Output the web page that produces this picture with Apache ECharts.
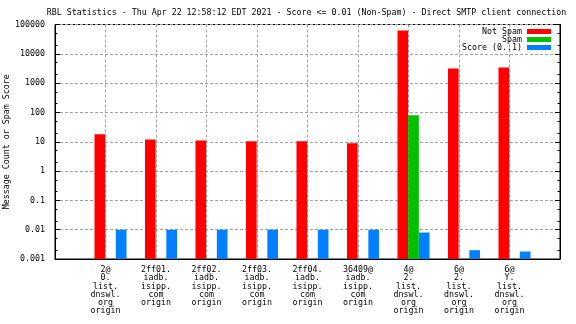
<!DOCTYPE html>
<html>
<head>
<meta charset="utf-8">
<script src="https://cdn.jsdelivr.net/npm/echarts@6/dist/echarts.min.js"></script>
<style>html,body{margin:0;padding:0;background:#fff}#c{width:576px;height:324px}</style>
</head>
<body>
<div id="c"></div>
<script>
var titleText = 'RBL Statistics - Thu Apr 22 12:58:12 EDT 2021 - Score <= 0.01 (Non-Spam) - Direct SMTP client connection';
var categories = [
  '2@\n0.\nlist.\ndnswl.\norg\norigin',
  '2ff01.\niadb.\nisipp.\ncom\norigin',
  '2ff02.\niadb.\nisipp.\ncom\norigin',
  '2ff03.\niadb.\nisipp.\ncom\norigin',
  '2ff04.\niadb.\nisipp.\ncom\norigin',
  '36409@\niadb.\nisipp.\ncom\norigin',
  '4@\n2.\nlist.\ndnswl.\norg\norigin',
  '6@\n2.\nlist.\ndnswl.\norg\norigin',
  '6@\nY.\nlist.\ndnswl.\norg\norigin'
];
var notSpam = [18, 12, 11, 10.4, 10.4, 8.9, 62000, 3150, 3400];
var spam = [null, null, null, null, null, null, 80, null, null];
var score = [0.01, 0.01, 0.01, 0.01, 0.01, 0.01, 0.008, 0.002, 0.0018];
var yTickLabels = ['0.001', '0.01', '0.1', '1', '10', '100', '1000', '10000', '100000'];
var yMinorTicks = [];
[-3,-2,-1,0,1,2,3,4].forEach(function(e){ yMinorTicks.push(2*Math.pow(10,e), 5*Math.pow(10,e)); });

var FONT = 'DejaVu Sans Mono';
var FS = 8.3;
var axisCats = [''].concat(categories, ['']);
function pad(a){ return [null].concat(a, [null]); }

var chart = echarts.init(document.getElementById('c'), null, {renderer: 'canvas'});
var gridPos = {top: 24.5, bottom: 65};
function logAxis(extra){
  var base = {type: 'log', logBase: 10, min: 0.001, max: 100000, startValue: 0.001};
  for (var k in extra) base[k] = extra[k];
  return base;
}
var option = {
  animation: false,
  backgroundColor: '#fff',
  textStyle: {fontFamily: FONT},
  title: {
    text: titleText, left: 306.5, top: 8, padding: 0, textAlign: 'center',
    textStyle: {fontFamily: FONT, fontSize: FS, fontWeight: 'normal', color: '#000', lineHeight: 10}
  },
  legend: {
    orient: 'vertical', right: 25, top: 27.5, padding: 0, align: 'right',
    itemWidth: 24, itemHeight: 5, itemGap: 0, icon: 'rect',
    textStyle: {fontFamily: FONT, fontSize: FS, color: '#000', lineHeight: 8},
    data: ['Not Spam', 'Spam', 'Score (0..1)']
  },
  grid: [
    {left: 55, right: 16, top: gridPos.top, bottom: gridPos.bottom, show: true, borderColor: '#000', borderWidth: 1, containLabel: false, outerBoundsMode: 'none'},
    {left: 60, right: 11, top: gridPos.top, bottom: gridPos.bottom, show: false, containLabel: false, outerBoundsMode: 'none'}
  ],
  xAxis: [
    {
      gridIndex: 0, type: 'category', data: axisCats, boundaryGap: false,
      axisLine: {show: true, lineStyle: {color: '#000'}},
      axisTick: {show: false},
      axisLabel: {interval: 0, margin: 7, fontFamily: FONT, fontSize: FS, lineHeight: 8.2, color: '#000'},
      splitLine: {show: true, lineStyle: {color: '#a0a0a0', type: [3, 2], width: 1}}
    },
    {
      gridIndex: 1, type: 'category', data: axisCats, boundaryGap: false, show: false
    }
  ],
  yAxis: [
    logAxis({
      gridIndex: 0, position: 'left', interval: 1,
      name: 'Message Count or Spam Score', nameLocation: 'middle', nameGap: 44, nameRotate: 90,
      nameMoveOverlap: false,
      nameTextStyle: {fontFamily: FONT, fontSize: FS, color: '#000'},
      axisLine: {show: true, lineStyle: {color: '#000'}},
      axisTick: {show: true, inside: true, length: 5, lineStyle: {color: '#000'}},
      axisLabel: {margin: 10, fontFamily: FONT, fontSize: FS, color: '#000',
        formatter: function(v){ return yTickLabels[Math.round(Math.log10(v)) + 3]; }},
      splitLine: {show: true, lineStyle: {color: '#a0a0a0', type: [3, 2], width: 1}}
    }),
    logAxis({
      gridIndex: 0, position: 'right', interval: 1,
      axisLine: {show: true, lineStyle: {color: '#000'}},
      axisTick: {show: true, inside: true, length: 5, lineStyle: {color: '#000'}},
      axisLabel: {show: false}, splitLine: {show: false}
    }),
    logAxis({
      gridIndex: 0, position: 'left', interval: 1,
      axisLine: {show: false},
      axisTick: {show: true, inside: true, length: 2.5, lineStyle: {color: '#000'}, customValues: yMinorTicks},
      axisLabel: {show: false}, splitLine: {show: false}
    }),
    logAxis({
      gridIndex: 0, position: 'right', interval: 1,
      axisLine: {show: false},
      axisTick: {show: true, inside: true, length: 2.5, lineStyle: {color: '#000'}, customValues: yMinorTicks},
      axisLabel: {show: false}, splitLine: {show: false}
    }),
    logAxis({gridIndex: 1, interval: 1, show: false})
  ],
  series: [
    {name: 'Not Spam', type: 'bar', xAxisIndex: 1, yAxisIndex: 4, data: pad(notSpam), barWidth: 10.67, barGap: '0%', itemStyle: {color: '#ff0000'}},
    {name: 'Spam', type: 'bar', xAxisIndex: 1, yAxisIndex: 4, data: pad(spam), barWidth: 10.67, barGap: '0%', itemStyle: {color: '#00c000'}},
    {name: 'Score (0..1)', type: 'bar', xAxisIndex: 1, yAxisIndex: 4, data: pad(score), barWidth: 10.67, barGap: '0%', itemStyle: {color: '#0080ff'}}
  ]
};
chart.setOption(option);
</script>
</body>
</html>
